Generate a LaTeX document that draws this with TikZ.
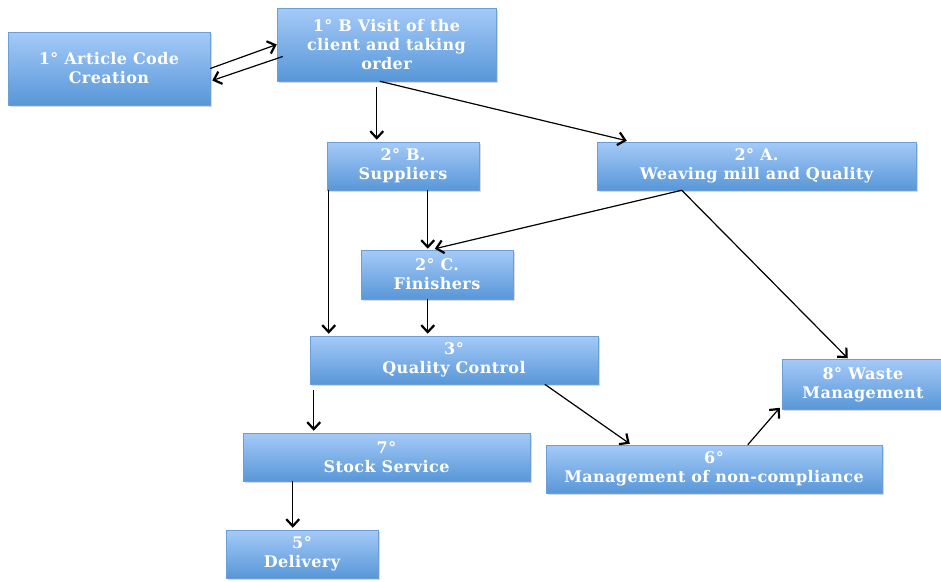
\documentclass[tikz,border=0pt]{standalone}
\usepackage{fontspec}
\setmainfont{DejaVu Serif}[LetterSpace=2.5]
\usetikzlibrary{calc,arrows.meta,shadows}
\definecolor{boxtop}{HTML}{A5CAF8}
\definecolor{boxbot}{HTML}{5897D8}
\definecolor{boxline}{HTML}{6C9FD6}
\tikzset{
  box/.style={rectangle, draw=boxline, line width=0.5pt,
    top color=boxtop, bottom color=boxbot,
    drop shadow={shadow xshift=1.5pt, shadow yshift=-1.5pt, opacity=0.3},
    text=white, font=\fontsize{16}{19}\selectfont\bfseries,
    align=center, inner sep=0pt},
  flow/.style={line width=1.2pt, -{Straight Barb[length=7pt, width=13pt, line width=2.2pt]}}
}
\begin{document}
\begin{tikzpicture}[x=1pt, y=-1pt]
\useasboundingbox (0,0) rectangle (941,581);

% process boxes (centre, width, height)
\node[box, minimum width=202pt, minimum height=73pt] (A) at (109,68.5) {1° Article Code\\Creation};
\node[box, minimum width=219pt, minimum height=73pt] (B) at (386.5,44.5) {1° B Visit of the\\client and taking\\order};
\node[box, minimum width=152pt, minimum height=48pt] (S) at (403,166) {2° B.\\Suppliers};
\node[box, minimum width=319pt, minimum height=48pt] (W) at (756.5,166) {2° A.\\Weaving mill and Quality};
\node[box, minimum width=152pt, minimum height=49pt] (F) at (437,274.5) {2° C.\\Finishers};
\node[box, minimum width=288pt, minimum height=48pt] (Q) at (454,360) {3°\\Quality Control};
\node[box, minimum width=162pt, minimum height=50pt] (WM) at (863,384.5) {8° Waste\\Management};
\node[box, minimum width=287pt, minimum height=48pt] (ST) at (386.5,457) {7°\\Stock Service};
\node[box, minimum width=336pt, minimum height=48pt] (NC) at (714,469) {6°\\Management of non-compliance};
\node[box, minimum width=152pt, minimum height=48pt] (D) at (302,554) {5°\\Delivery};

% connectors
\draw[flow] (A.east) -- (B.west);
\draw[flow] ($(B.west)+(6,12)$) -- ($(A.east)+(2,12)$);
\draw[flow] ($(B.south west)+(100,6)$) -- ($(S.north west)+(50,-2)$);
\draw[flow] ($(B.south west)+(103,0)$) -- ($(W.north west)+(30,-1)$);
\draw[flow] ($(S.south west)+(2,0)$) -- ($(Q.north west)+(19,-2)$);
\draw[flow] ($(S.south west)+(101,0)$) -- ($(F.north west)+(67,-1)$);
\draw[flow] ($(W.south west)+(85,0)$) -- ($(F.north west)+(74,-1)$);
\draw[flow] ($(W.south west)+(85,0)$) -- ($(WM.north west)+(66,-1)$);
\draw[flow] ($(F.south west)+(67,0)$) -- ($(Q.north west)+(118,-2)$);
\draw[flow] ($(Q.south west)+(4,6)$) -- ($(ST.north west)+(71,-2)$);
\draw[flow] ($(Q.south west)+(235,0)$) -- ($(NC.north west)+(84,-1)$);
\draw[flow] ($(NC.north west)+(202,0)$) -- ($(WM.south west)+(-2,-2)$);
\draw[flow] ($(ST.south west)+(50,0)$) -- ($(D.north west)+(67,-2)$);
\end{tikzpicture}
\end{document}
